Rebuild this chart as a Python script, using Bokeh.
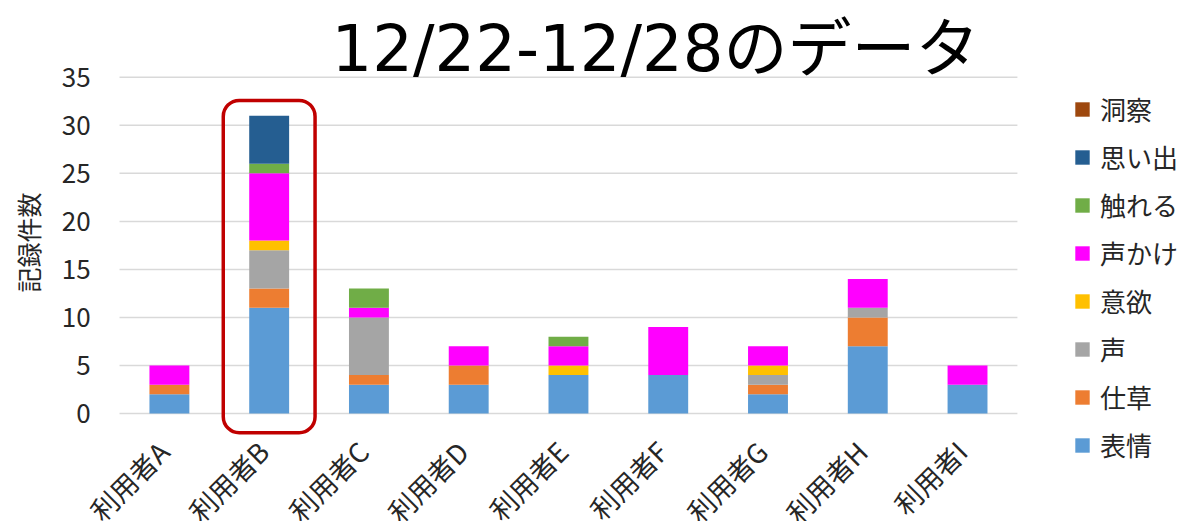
from math import pi

from bokeh.core.properties import value
from bokeh.embed import file_html
from bokeh.models import BoxAnnotation, Label, Legend, LegendItem, Range1d
from bokeh.plotting import figure
from bokeh.resources import INLINE

# --- data -------------------------------------------------------------
users = ["利用者A", "利用者B", "利用者C", "利用者D", "利用者E",
         "利用者F", "利用者G", "利用者H", "利用者I"]

# stacked from the bottom up
categories = ["表情", "仕草", "声", "意欲", "声かけ", "触れる", "思い出", "洞察"]

hyojo    = [2, 11, 3, 3, 4, 4, 2, 7, 3]   # 表情
shigusa  = [1, 2, 1, 2, 0, 0, 1, 3, 0]    # 仕草
koe      = [0, 4, 6, 0, 0, 0, 1, 1, 0]    # 声
iyoku    = [0, 1, 0, 0, 1, 0, 1, 0, 0]    # 意欲
koekake  = [2, 7, 1, 2, 2, 5, 2, 3, 2]    # 声かけ
fureru   = [0, 1, 2, 0, 1, 0, 0, 0, 0]    # 触れる
omoide   = [0, 5, 0, 0, 0, 0, 0, 0, 0]    # 思い出
dousatsu = [0, 0, 0, 0, 0, 0, 0, 0, 0]    # 洞察

y_ticks = [0, 5, 10, 15, 20, 25, 30, 35]
y_tick_labels = ["0", "5", "10", "15", "20", "25", "30", "35"]
title_text = "12/22-12/28のデータ"
y_label = "記録件数"
highlight_user = "利用者B"

colors = ["#5b9bd5", "#ed7d31", "#a5a5a5", "#ffc000",
          "#ff00ff", "#70ad47", "#255e91", "#9e480e"]

series = [hyojo, shigusa, koe, iyoku, koekake, fureru, omoide, dousatsu]
n = len(users)
slot = [i + 0.5 for i in range(n)]          # centre of each user's slot

source = {"x": slot, "user": users}
for name, vals in zip(categories, series):
    source[name] = vals

FONT = "Noto Sans CJK JP"
TITLE_FONT = "DejaVu Sans, Noto Sans CJK JP"
TEXT = "#262626"

# --- figure -----------------------------------------------------------
# The frame covers the whole canvas: user slots occupy x in [0, n], the
# value labels sit to their left, the legend to their right and the
# rotated user names below the zero line.
p = figure(
    x_range=Range1d(-1.193, n + 1.745),
    y_range=Range1d(-11.25, 43.0),
    width=1191, height=521,
    min_border_left=0, min_border_right=0,
    min_border_top=0, min_border_bottom=0,
    output_backend="svg", toolbar_location=None,
    outline_line_color=None,
)
p.background_fill_color = "white"
p.border_fill_color = "white"
p.axis.visible = False
p.grid.visible = False

# horizontal grid lines across the user slots only
p.segment(x0=[0] * len(y_ticks), x1=[n] * len(y_ticks), y0=y_ticks, y1=y_ticks,
          line_color="#d9d9d9", line_width=1.5)

# value scale labels
p.text(x=[-0.29] * len(y_ticks), y=y_ticks, text=y_tick_labels,
       text_align="right", text_baseline="middle",
       text_font=value(FONT), text_font_size="26px", text_color=TEXT)

renderers = p.vbar_stack(categories, x="x", width=0.4, source=source,
                         color=colors, line_color=None)

# user names, rotated
p.text(x=slot, y=[-3.4] * n, text=users, angle=pi / 4,
       x_offset=-6, text_align="right", text_baseline="middle",
       text_font=value(FONT), text_font_size="27px", text_color=TEXT)

# value-axis title
p.add_layout(Label(
    x=27, y=279, x_units="screen", y_units="screen", angle=pi / 2,
    text=y_label, text_font=FONT, text_font_size="25px",
    text_color=TEXT, text_align="center", text_baseline="middle",
))

# highlight frame around one user's bar
idx = users.index(highlight_user)
total = sum(s[idx] for s in series)
p.add_layout(BoxAnnotation(
    left=slot[idx] - 0.46, right=slot[idx] + 0.46,
    bottom=-2.0, top=total + 1.6,
    fill_alpha=0, line_color="#c00000", line_alpha=1, line_width=3.5,
    border_radius=16,
))

# chart title
p.add_layout(Label(
    x=655, y=473, x_units="screen", y_units="screen",
    text=title_text, text_font=TITLE_FONT, text_font_size="64px",
    text_color="black", text_align="center", text_baseline="alphabetic",
))

# legend, top to bottom in reverse stacking order
items = [LegendItem(label=c, renderers=[r])
         for c, r in zip(categories[::-1], renderers[::-1])]
legend = Legend(
    items=items, location=(1073, 58),
    label_text_font=FONT, label_text_font_size="26px", label_text_color=TEXT,
    glyph_width=18, glyph_height=18, label_standoff=9,
    label_height=26, spacing=11, padding=0, margin=0,
    border_line_color=None, background_fill_alpha=0,
)
p.add_layout(legend, "center")

open("out.html", "w").write(file_html(p, INLINE))
